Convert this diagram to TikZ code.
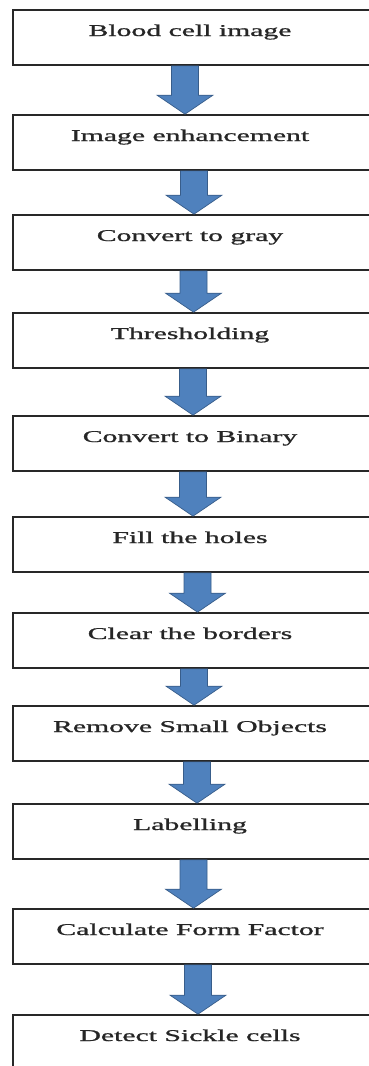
\documentclass[tikz,border=0pt]{standalone}
\usepackage{fontspec}
\setmainfont{Liberation Serif}
\newfontfamily\lblfont{Liberation Serif}[FakeBold=0.9]
\usetikzlibrary{calc}
\definecolor{arrfill}{RGB}{79,129,189}
\definecolor{arredge}{RGB}{56,93,138}
\definecolor{boxline}{RGB}{40,40,40}
\tikzset{
  stepbox/.style={draw=boxline, line width=1.7pt, rectangle, minimum width=367pt, minimum height=55pt, inner sep=0pt, fill=white},
  lbl/.style={anchor=base, inner sep=0pt, text=black!85, font=\lblfont\fontsize{16.5pt}{18pt}\selectfont},
  fatarr/.style={fill=arrfill, draw=arredge, line width=0.7pt, line join=miter}
}
\newcommand{\stxt}[1]{\scalebox{1.8}[1]{#1}}
\newcommand{\fatarrow}[3]{%
  \path (#1.south) ++(#3,0) coordinate (fs) (#2.north) ++(#3,0) coordinate (ft);
  \draw[fatarr] ($(fs)+(-13.5,0)$) -- ($(fs)+(13.5,0)$) -- ($(ft)+(13.5,-19)$) -- ($(ft)+(28,-19)$) -- (ft) -- ($(ft)+(-28,-19)$) -- ($(ft)+(-13.5,-19)$) -- cycle;
}
\begin{document}
\begin{tikzpicture}[x=1pt, y=-1pt]
\useasboundingbox (0,0) rectangle (369,1066);
\clip (0,0) rectangle (369,1066);
\fill[white] (0,0) rectangle (369,1066);
% boxes
\foreach \n/\t in {1/10, 2/115, 3/215, 4/313, 5/416, 6/517, 7/613, 8/706, 9/804, 10/909, 11/1015} {
  \node[stepbox] (b\n) at (196.5, \t+27.5) {};
}
% labels
\node[lbl] (t1) at (190, 36) {\stxt{Blood cell image}};
\node[lbl] (t2) at (190, 141) {\stxt{Image enhancement}};
\node[lbl] (t3) at (190, 241) {\stxt{Convert to gray}};
\node[lbl] (t4) at (190, 339) {\stxt{Thresholding}};
\node[lbl] (t5) at (190, 442) {\stxt{Convert to Binary}};
\node[lbl] (t6) at (190, 543) {\stxt{Fill the holes}};
\node[lbl] (t7) at (190, 639) {\stxt{Clear the borders}};
\node[lbl] (t8) at (190, 732) {\stxt{Remove Small Objects}};
\node[lbl] (t9) at (190, 830) {\stxt{Labelling}};
\node[lbl] (t10) at (190, 935) {\stxt{Calculate Form Factor}};
\node[lbl] (t11) at (190, 1041) {\stxt{Detect Sickle cells}};
% arrows (offset from box centre 196.5)
\fatarrow{b1}{b2}{-11.5}
\fatarrow{b2}{b3}{-2.5}
\fatarrow{b3}{b4}{-3}
\fatarrow{b4}{b5}{-3.5}
\fatarrow{b5}{b6}{-3.5}
\fatarrow{b6}{b7}{1}
\fatarrow{b7}{b8}{-2.5}
\fatarrow{b8}{b9}{0.5}
\fatarrow{b9}{b10}{-3}
\fatarrow{b10}{b11}{1.5}
\end{tikzpicture}
\end{document}
